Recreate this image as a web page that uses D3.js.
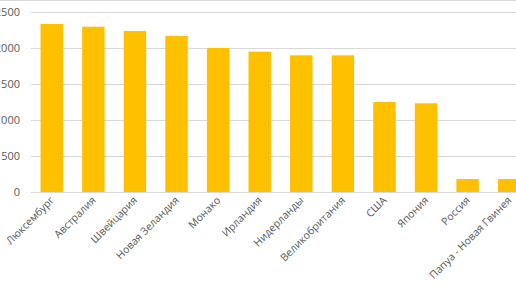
<!DOCTYPE html>
<html>
<head>
<meta charset="utf-8">
<script src="https://cdn.jsdelivr.net/npm/d3@7"></script>
<style>
  body { margin: 0; background: #fff; }
  svg { display: block; font-family: "Open Sans", "DejaVu Sans", sans-serif; }
</style>
</head>
<body>
<div id="chart"></div>
<script>
(function() {
    let w = 516,
        h = 290;

    let countries = ["Люксембург", "Австралия", "Швейцария", "Новая Зеландия", "Монако", "Ирландия",
        "Нидерланды", "Великобритания", "США", "Япония", "Россия", "Папуа - Новая Гвинея"];
    let values = [2333, 2296, 2236, 2167, 2000, 1949, 1898, 1898, 1250, 1232, 180, 180];
    let yTicks = [0, 500, 1000, 1500, 2000, 2500];

    let svg = d3.select("#chart")
        .append("svg")
        .attr("width", w)
        .attr("height", h);

    let x = d3.scaleBand()
        .domain(countries)
        .range([31, 530])
        .paddingInner(0.46)
        .paddingOuter(0.23);

    let y = d3.scaleLinear()
        .domain([0, 2500])
        .range([192, 12]);

    // top border of chart area
    svg.append("line")
        .attr("x1", 0).attr("x2", w)
        .attr("y1", 0.5).attr("y2", 0.5)
        .attr("stroke", "#d9d9d9");

    // grid
    svg.append("g")
        .selectAll("line").data(yTicks).enter().append("line")
        .attr("x1", 31).attr("x2", w)
        .attr("y1", d => Math.round(y(d)) + 0.5)
        .attr("y2", d => Math.round(y(d)) + 0.5)
        .attr("stroke", "#d9d9d9");

    svg.append("g")
        .selectAll("text").data(yTicks).enter().append("text")
        .attr("x", 20)
        .attr("y", d => y(d))
        .attr("dy", "0.35em")
        .attr("text-anchor", "end")
        .attr("font-size", 11)
        .attr("fill", "#595959")
        .text(d => d);

    svg.append("g")
        .selectAll("rect").data(values).enter().append("rect")
        .attr("x", (d, i) => x(countries[i]))
        .attr("width", x.bandwidth())
        .attr("y", d => y(d))
        .attr("height", d => y(0) - y(d))
        .attr("fill", "#ffc000");

    svg.append("g")
        .selectAll("text").data(countries).enter().append("text")
        .attr("transform", d => "translate(" + (x(d) + x.bandwidth() / 2 + 3) + ",201) rotate(-45)")
        .attr("text-anchor", "end")
        .attr("font-size", 10.5)
        .attr("fill", "#595959")
        .text(d => d);
})();
</script>
</body>
</html>
